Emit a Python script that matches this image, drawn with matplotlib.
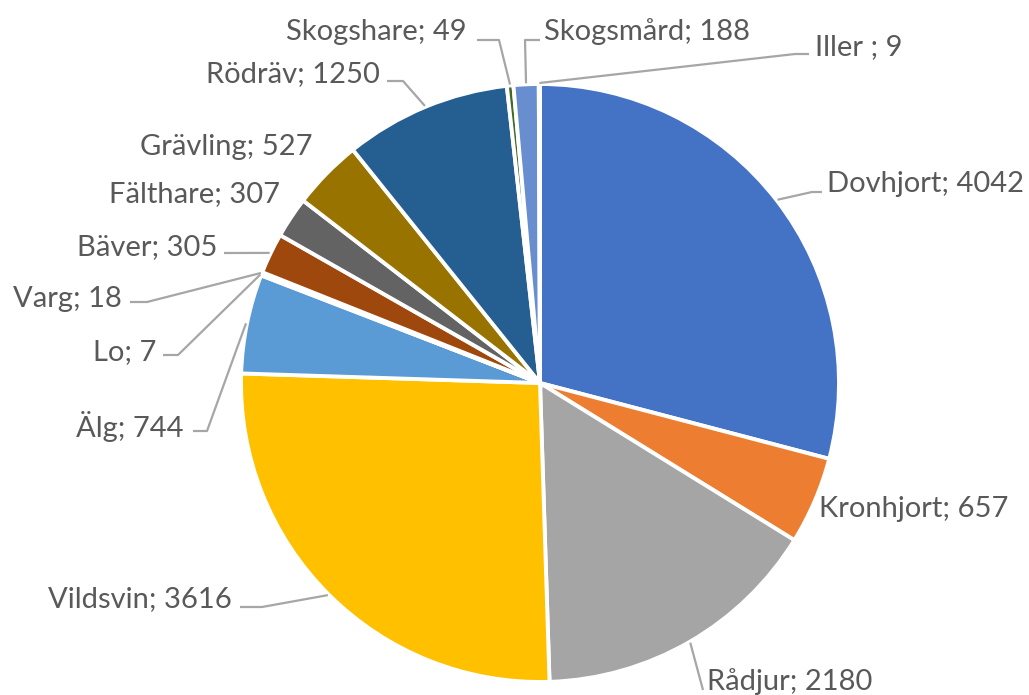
import numpy as np
import matplotlib.pyplot as plt

plt.rcParams['font.family'] = ['Lato', 'DejaVu Sans']

W, H = 1029, 695

species = ["Dovhjort", "Kronhjort", "Rådjur", "Vildsvin", "Älg", "Lo", "Varg",
           "Bäver", "Fälthare", "Grävling", "Rödräv", "Skogshare", "Skogsmård", "Iller "]
counts = [4042, 657, 2180, 3616, 744, 7, 18, 305, 307, 527, 1250, 49, 188, 9]
colors = ["#4472C4", "#ED7D31", "#A5A5A5", "#FFC000", "#5B9BD5", "#70AD47", "#264478",
          "#9E480E", "#636363", "#997300", "#255E91", "#43682B", "#698ED0", "#F1975A"]

# layout in image pixels (y measured from top): text anchor, alignment, leader points
label_layout = [
    ((827, 192), "left", [(822, 192), (812, 192)]),
    ((819, 517), "left", None),
    ((707, 690), "left", [(703, 690)]),
    ((232, 607), "right", [(240, 607), (262, 607)]),
    ((184, 437), "right", [(193, 431), (207, 431)]),
    ((156, 360), "right", [(163, 355), (178, 355)]),
    ((122, 307), "right", [(130, 302), (147, 302)]),
    ((217, 255), "right", [(224, 253)]),
    ((280, 202), "right", None),
    ((312, 155), "right", None),
    ((380, 82), "right", [(387, 81), (403, 81)]),
    ((467, 40), "right", [(477, 40), (499, 40)]),
    ((544, 40), "left", [(540, 40), (525, 40)]),
    ((815, 55), "left", [(809, 54), (795, 54)]),
]

cx, cy, R = 540, 383, 299

fig = plt.figure(figsize=(W / 100, H / 100), dpi=100)
ax = fig.add_axes([0, 0, 1, 1])

ax.pie(counts, colors=colors, startangle=90, counterclock=False,
       center=(cx, H - cy), radius=R,
       wedgeprops=dict(edgecolor="white", linewidth=2.8))
ax.set_xlim(0, W)
ax.set_ylim(0, H)
ax.axis("off")

total = sum(counts)
cum = np.cumsum([0] + counts[:-1])
for name, val, c0, (pos, ha, pts) in zip(species, counts, cum, label_layout):
    theta = np.deg2rad(90 - 360 * (c0 + val / 2) / total)
    if pts:
        anchor = (cx + (R + 1) * np.cos(theta), (H - cy) + (R + 1) * np.sin(theta))
        xs = [p[0] for p in pts] + [anchor[0]]
        ys = [H - p[1] for p in pts] + [anchor[1]]
        ax.plot(xs, ys, color="#A6A6A6", lw=1.6, solid_capstyle="butt", zorder=1)
    ax.text(pos[0], H - pos[1], f"{name}; {val}", ha=ha, va="baseline",
            fontsize=21, color="#595959")

fig.savefig("out.png", dpi=100, facecolor="white")
